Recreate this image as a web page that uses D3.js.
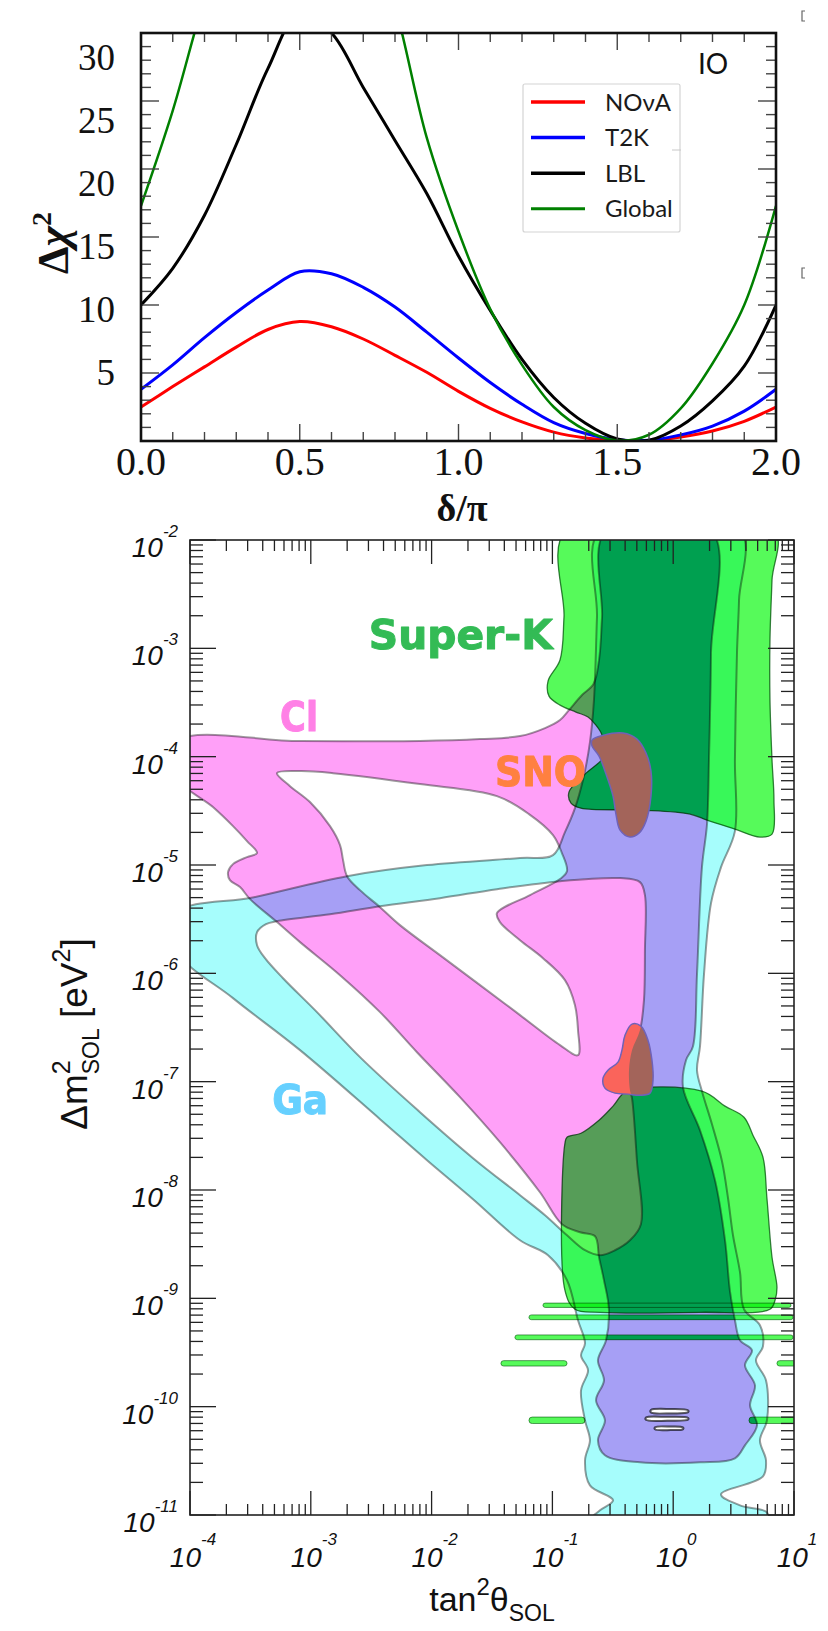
<!DOCTYPE html>
<html><head><meta charset="utf-8">
<script src="https://cdn.jsdelivr.net/npm/d3@7"></script>
<style>
html,body{margin:0;padding:0;background:#fff;}
svg{display:block;}
</style></head><body>
<svg id="chart" width="828" height="1631"></svg>
<script>
// ===== Panel A: Δχ² as a function of δ/π (inverted ordering) =====
const deltaGrid  = [0,0.1,0.2,0.3,0.4,0.5,0.6,0.7,0.8,0.9,1.0,1.1,1.2,1.3,1.4,1.5,1.6,1.7,1.8,1.9,2.0];
const novaChi2   = [2.5,4.0,5.45,6.9,8.2,8.78,8.4,7.5,6.3,5.05,3.65,2.4,1.4,0.65,0.22,0.03,0.03,0.3,0.74,1.45,2.5];
const t2kChi2    = [3.8,5.6,7.6,9.45,11.1,12.45,12.3,11.3,9.85,8.0,6.1,4.3,2.7,1.35,0.55,0.1,0.05,0.45,1.1,2.2,3.8];
const lblChi2    = [10.0,12.7,16.6,21.8,27.4,31.5,30.0,26.0,22.1,18.2,13.6,9.6,6.0,3.2,1.3,0.15,0.05,1.1,2.95,5.5,10.0];
const globalChi2 = [17.3,24.3,32.5,39,43,45,44,39,32,22.3,15.4,9.7,5.6,2.5,0.8,0.03,0.46,2.4,5.7,10.0,17.3];
const seriesNames  = ['NOνA','T2K','LBL','Global'];
const seriesColors = ['#ff0000','#0000ff','#000000','#008000'];
const seriesWidths = [3,3,3,2.5];
const chi2Labels   = [5,10,15,20,25,30];
const deltaLabels  = [0,0.5,1.0,1.5,2.0];

// ===== Panel B: solar allowed regions, [log10 tan²θ, log10 Δm²] =====
const gaOuter = [[-4.1,-5.44],[-3.470,-5.297],[-2.700,-5.103],[-2.038,-5.001],[-1.268,-4.936],[-0.995,-4.909],
 [-0.896,-4.696],[-0.813,-4.475],[-0.747,-4.216],[-0.689,-3.865],[-0.656,-3.477],[-0.631,-2.711],[-0.606,-1.908],
 [0.553,-1.908],[0.545,-2.554],[0.528,-3.043],[0.511,-4.031],[0.511,-4.687],[0.396,-5.020],[0.313,-5.352],
 [0.255,-6.008],[0.222,-6.672],[0.197,-6.894],[0.238,-7.088],[0.321,-7.393],[0.404,-7.734],[0.454,-8.076],
 [0.495,-8.418],[0.553,-8.759],[0.586,-9.101],[0.718,-9.249],[0.743,-9.443],[0.685,-9.572],[0.768,-9.757],
 [0.776,-10.126],[0.718,-10.311],[0.768,-10.495],[0.743,-10.643],[0.396,-10.809],[0.553,-10.911],[0.776,-10.975],
 [0.776,-11.05],[-0.689,-11.05],[-0.606,-10.957],[-0.498,-10.864],[-0.689,-10.726],[-0.730,-10.495],[-0.689,-10.311],
 [-0.730,-10.126],[-0.763,-9.849],[-0.705,-9.664],[-0.763,-9.526],[-0.730,-9.415],[-0.788,-9.203],[-0.879,-8.833],
 [-1.036,-8.602],[-1.268,-8.464],[-1.657,-8.085],[-2.038,-7.725],[-2.427,-7.346],[-3.089,-6.709],[-3.644,-6.229],[-4.1,-5.80]];
const gaHole = [[-3.445,-5.620],[-3.371,-5.546],[-3.280,-5.518],[-2.841,-5.454],[-2.427,-5.380],[-1.931,-5.306],
 [-1.459,-5.223],[-0.937,-5.149],[-0.440,-5.121],[-0.275,-5.158],[-0.234,-5.278],[-0.234,-5.786],[-0.242,-6.248],
 [-0.275,-6.525],[-0.341,-6.709],[-0.366,-6.894],[-0.358,-7.079],[-0.341,-7.153],[-0.300,-7.734],[-0.267,-8.316],
 [-0.358,-8.464],[-0.482,-8.556],[-0.606,-8.602],[-0.730,-8.556],[-0.879,-8.418],[-1.061,-8.233],[-1.268,-8.048],
 [-1.657,-7.706],[-2.096,-7.282],[-2.584,-6.783],[-2.949,-6.358],[-3.230,-6.045],[-3.379,-5.860],[-3.445,-5.740]];
const clOuter = [[-4.1,-3.856],[-3.089,-3.856],[-2.096,-3.856],[-1.599,-3.838],[-1.268,-3.810],[-1.061,-3.736],
 [-0.937,-3.662],[-0.863,-3.570],[-0.755,-3.431],[-0.660,-3.330],[-0.614,-3.108],[-0.589,-2.711],[-0.556,-1.908],
 [0.313,-1.908],[0.313,-3.043],[0.296,-4.031],[0.280,-4.622],[0.238,-5.020],[0.197,-6.008],[0.164,-6.672],
 [0.106,-6.802],[0.081,-7.051],[0.222,-7.449],[0.346,-7.910],[0.429,-8.464],[0.470,-8.935],[0.511,-9.203],[0.553,-9.387],
 [0.652,-9.480],[0.594,-9.618],[0.677,-9.803],[0.636,-9.988],[0.694,-10.172],[0.594,-10.357],[0.511,-10.477],
 [0.222,-10.514],[-0.275,-10.514],[-0.565,-10.449],[-0.623,-10.311],[-0.565,-10.126],[-0.639,-9.941],[-0.573,-9.757],
 [-0.623,-9.572],[-0.556,-9.387],[-0.532,-9.101],[-0.573,-8.833],[-0.614,-8.621],[-0.647,-8.427],[-0.772,-8.390],
 [-0.921,-8.316],[-1.103,-8.021],[-1.434,-7.559],[-1.765,-7.143],[-2.121,-6.728],[-2.427,-6.358],[-2.758,-6.017],
 [-3.089,-5.712],[-3.280,-5.527],[-3.503,-5.315],[-3.586,-5.204],[-3.669,-5.140],[-3.685,-5.066],[-3.644,-4.992],
 [-3.528,-4.927],[-3.445,-4.890],[-3.528,-4.779],[-3.644,-4.641],[-3.810,-4.465],[-4.1,-4.20]];
const clHole = [[-3.280,-4.152],[-3.089,-4.133],[-2.816,-4.152],[-2.096,-4.253],[-1.459,-4.364],[-1.194,-4.530],
 [-0.995,-4.724],[-0.921,-4.890],[-0.879,-5.056],[-0.937,-5.130],[-1.185,-5.278],[-1.459,-5.444],[-1.434,-5.527],
 [-1.268,-5.694],[-1.078,-5.860],[-0.896,-6.063],[-0.813,-6.294],[-0.788,-6.525],[-0.788,-6.756],[-0.937,-6.663],
 [-1.268,-6.386],[-1.599,-6.109],[-1.931,-5.832],[-2.262,-5.555],[-2.427,-5.389],[-2.593,-5.232],[-2.700,-5.103],
 [-2.733,-4.955],[-2.758,-4.816],[-2.841,-4.641],[-3.007,-4.419],[-3.172,-4.272]];
// narrow gaps inside the low-Δm² part shared by both radiochemical regions
const lowGaps = [[[-0.184,-10.030],[-0.02,-10.022],[0.123,-10.034],[0.123,-10.052],[-0.02,-10.062],[-0.184,-10.054]],
 [[-0.225,-10.100],[-0.05,-10.094],[0.123,-10.104],[0.123,-10.120],[-0.05,-10.130],[-0.225,-10.122]],
 [[-0.150,-10.190],[-0.02,-10.184],[0.081,-10.192],[0.081,-10.208],[-0.02,-10.216],[-0.150,-10.210]]];
const skUpper = [[-0.887,-1.908],[-0.904,-2.711],[-0.937,-3.108],[-1.036,-3.302],[-1.028,-3.441],[-0.937,-3.524],
 [-0.805,-3.588],[-0.705,-3.634],[-0.647,-3.699],[-0.589,-3.801],[-0.573,-3.995],[-0.730,-4.161],[-0.863,-4.327],
 [-0.846,-4.429],[-0.763,-4.475],[-0.275,-4.493],[0.139,-4.530],[0.280,-4.586],[0.511,-4.669],[0.718,-4.742],
 [0.818,-4.715],[0.834,-4.401],[0.818,-4.031],[0.801,-3.477],[0.801,-2.923],[0.818,-2.369],[0.834,-1.908]];
const skLower = [[-0.896,-7.568],[-0.879,-7.513],[-0.763,-7.476],[-0.614,-7.356],[-0.498,-7.226],[-0.383,-7.088],
 [0.238,-7.088],[0.429,-7.226],[0.586,-7.328],[0.660,-7.494],[0.743,-7.697],[0.776,-8.076],[0.818,-8.621],
 [0.859,-8.898],[0.843,-9.018],[0.801,-9.101],[0.222,-9.129],[-0.606,-9.129],[-0.813,-9.101],[-0.896,-8.926]];
// thin Super-K islands: [log10 tan² from, to, log10 Δm² centre, half height in decades]
const skIslands = [[-1.078,0.975,-9.064,0.02],[-1.194,0.992,-9.175,0.022],[-1.310,0.992,-9.360,0.022],
 [-1.426,-0.879,-9.600,0.025],[0.859,1.05,-9.600,0.025],[-1.194,-0.730,-10.126,0.03],[0.627,1.05,-10.126,0.03]];
const snoUpper = [[-0.672,-3.847],[-0.573,-3.801],[-0.416,-3.782],[-0.300,-3.838],[-0.225,-3.967],[-0.184,-4.133],
 [-0.184,-4.364],[-0.225,-4.595],[-0.283,-4.706],[-0.358,-4.742],[-0.440,-4.678],[-0.474,-4.530],[-0.498,-4.364],
 [-0.556,-4.161],[-0.614,-3.995],[-0.672,-3.902]];
const snoLower = [[-0.341,-6.469],[-0.267,-6.488],[-0.209,-6.617],[-0.176,-6.802],[-0.167,-6.986],[-0.192,-7.106],
 [-0.275,-7.125],[-0.374,-7.115],[-0.482,-7.106],[-0.565,-7.060],[-0.581,-6.968],[-0.540,-6.894],[-0.457,-6.820],
 [-0.424,-6.709],[-0.399,-6.571]];
const regionLabels = [
  {text:'Super-K', lx:-2.52, ly:-3.005, w:184, color:'#33bb55'},
  {text:'Cl',      lx:-3.255, ly:-3.76, w:38, color:'#ff80e6'},
  {text:'SNO',     lx:-1.475, ly:-4.27, w:91, color:'#ff8040'},
  {text:'Ga',      lx:-3.32, ly:-7.30, w:56, color:'#66d0ff'}];
const tanExponents = [-4,-3,-2,-1,0,1];
const dmExponents  = [-2,-3,-4,-5,-6,-7,-8,-9,-10,-11];

const svg = d3.select('#chart');
const defs = svg.append('defs');

// ---------------- Panel A ----------------
const A = {l:141, r:776, t:33, b:441};
const xA = d3.scaleLinear().domain([0,2]).range([A.l,A.r]);
const yA = d3.scaleLinear().domain([0,30]).range([A.b,A.t]);
// the printed numbers on the Δχ² axis run on a slightly tighter spacing than the ticks
const yALabel = d3.scaleLinear().domain([5,30]).range([372,57]);

defs.append('clipPath').attr('id','clipA').append('rect')
  .attr('x',A.l).attr('y',A.t).attr('width',A.r-A.l).attr('height',A.b-A.t);

const gA = svg.append('g');
const curveData = [novaChi2,t2kChi2,lblChi2,globalChi2];
const lineA = d3.line().x((d,i)=>xA(deltaGrid[i])).y(d=>yA(d)).curve(d3.curveCatmullRom.alpha(0.5));
const curves = gA.append('g').attr('clip-path','url(#clipA)');
curveData.forEach((vals,k)=>{
  curves.append('path').attr('d',lineA(vals)).attr('fill','none')
    .attr('stroke',seriesColors[k]).attr('stroke-width',seriesWidths[k]);
});

// ticks
const tickA = gA.append('g').attr('stroke','#444').attr('stroke-width',1.4);
d3.range(0,21).forEach(i=>{
  const v=i/10, major=(i%5===0), L=major?17:9, x=xA(v);
  tickA.append('line').attr('x1',x).attr('x2',x).attr('y1',A.b).attr('y2',A.b-L);
  tickA.append('line').attr('x1',x).attr('x2',x).attr('y1',A.t).attr('y2',A.t+L);
});
d3.range(0,31).forEach(v=>{
  const major=(v%5===0), L=major?18:10, y=yA(v);
  tickA.append('line').attr('x1',A.l).attr('x2',A.l+L).attr('y1',y).attr('y2',y);
  tickA.append('line').attr('x1',A.r).attr('x2',A.r-L).attr('y1',y).attr('y2',y);
});
gA.append('rect').attr('x',A.l).attr('y',A.t).attr('width',A.r-A.l).attr('height',A.b-A.t)
  .attr('fill','none').attr('stroke','#111').attr('stroke-width',2.6);

// tick labels
gA.selectAll('.xl').data(deltaLabels).enter().append('text')
  .attr('x',d=>xA(d)).attr('y',475).attr('text-anchor','middle')
  .attr('font-family','Liberation Serif, Times New Roman, serif').attr('font-size',40).attr('fill','#111')
  .text(d=>d.toFixed(1));
gA.selectAll('.yl').data(chi2Labels).enter().append('text')
  .attr('x',115).attr('y',d=>yALabel(d)+12.5).attr('text-anchor','end')
  .attr('font-family','Liberation Serif, Times New Roman, serif').attr('font-size',37).attr('fill','#111')
  .text(d=>d);

// axis titles
gA.append('text').attr('x',462).attr('y',521).attr('text-anchor','middle')
  .attr('font-family','Liberation Serif, Times New Roman, serif').attr('font-weight','bold')
  .attr('font-size',38).attr('fill','#111').text('δ/π');
const ytA = gA.append('text').attr('transform','translate(68,243) rotate(-90)').attr('text-anchor','middle')
  .attr('font-family','Liberation Serif, Times New Roman, serif').attr('font-weight','bold')
  .attr('font-size',44).attr('fill','#111');
ytA.append('tspan').text('Δ');
ytA.append('tspan').attr('font-style','italic').text('χ');
ytA.append('tspan').attr('dy',-17).attr('font-size',28).text('2');

gA.append('text').attr('x',698).attr('y',74).attr('font-family','Lato, sans-serif')
  .attr('font-size',28).attr('fill','#111').text('IO');

// legend
const leg = gA.append('g');
leg.append('rect').attr('x',523).attr('y',84).attr('width',157).attr('height',148).attr('rx',2)
  .attr('fill','#fff').attr('stroke','#d4d4d4').attr('stroke-width',1.2);
seriesNames.forEach((n,k)=>{
  const y = 102 + k*35.6;
  leg.append('line').attr('x1',531).attr('x2',585).attr('y1',y).attr('y2',y)
    .attr('stroke',seriesColors[k]).attr('stroke-width',seriesWidths[k]+0.5);
  leg.append('text').attr('x',605).attr('y',y+8.5).attr('font-family','Lato, sans-serif')
    .attr('font-size',24).attr('fill','#1a1a1a').text(n);
});
leg.append('line').attr('x1',672).attr('x2',681).attr('y1',150).attr('y2',150).attr('stroke','#c8c8c8').attr('stroke-width',1);
// small crop marks on the right margin
[[805,11],[805,268]].forEach(([x,y])=>{
  gA.append('path').attr('d',`M${x},${y} h-3 v10 h3`).attr('fill','none').attr('stroke','#666').attr('stroke-width',1.2);
});

// ---------------- Panel B ----------------
const B = {l:190, r:794, t:540, b:1515};
const xB = d3.scaleLog().domain([1e-4,1e1]).range([B.l,B.r]);
const yB = d3.scaleLog().domain([1e-11,1e-2]).range([B.b,B.t]);
const P = ([a,b]) => [xB(Math.pow(10,a)), yB(Math.pow(10,b))];
const smooth = d3.line().curve(d3.curveCatmullRomClosed.alpha(0.5));
const ring = pts => smooth(pts.map(P));
const islandRect = (sel,[a,b,c,h]) => {
  const x0=xB(Math.pow(10,a)), x1=xB(Math.pow(10,b)), y0=yB(Math.pow(10,c+h)), y1=yB(Math.pow(10,c-h));
  return sel.append('rect').attr('x',x0).attr('y',y0).attr('width',x1-x0).attr('height',y1-y0).attr('rx',(y1-y0)/2);
};

const gaPath = ring(gaOuter)+ring(gaHole)+lowGaps.map(ring).join('');
const clPath = ring(clOuter)+ring(clHole)+lowGaps.map(ring).join('');
const GA_FILL='#a6fdfc', CL_FILL='#ffa0f8', SK_FILL='#56fa5a', SK_CORE='#00a050', SNO_FILL='#faa05d';

defs.append('clipPath').attr('id','clipB').append('rect')
  .attr('x',B.l).attr('y',B.t).attr('width',B.r-B.l).attr('height',B.b-B.t);
const snoClip = defs.append('clipPath').attr('id','clipSNO');
snoClip.append('path').attr('d',ring(snoUpper));
snoClip.append('path').attr('d',ring(snoLower));
const skClip = defs.append('clipPath').attr('id','clipSK');
skClip.append('path').attr('d',ring(skUpper));
skClip.append('path').attr('d',ring(skLower));
skIslands.forEach(d=>islandRect(skClip,d));
defs.append('clipPath').attr('id','clipGA').append('path').attr('d',gaPath).attr('clip-rule','evenodd');

const gB = svg.append('g').attr('clip-path','url(#clipB)').style('isolation','isolate');
gB.append('rect').attr('x',B.l).attr('y',B.t).attr('width',B.r-B.l).attr('height',B.b-B.t).attr('fill','#fff');

function regionFills(g){
  g.append('path').attr('d',gaPath).attr('fill-rule','evenodd').attr('fill',GA_FILL).style('mix-blend-mode','multiply');
  g.append('path').attr('d',clPath).attr('fill-rule','evenodd').attr('fill',CL_FILL).style('mix-blend-mode','multiply');
}
regionFills(gB);

// Super-Kamiokande
const skG = gB.append('g');
[skUpper,skLower].forEach(r=>{
  skG.append('path').attr('d',ring(r)).attr('fill',SK_FILL).style('mix-blend-mode','multiply');
});
skIslands.forEach(d=>islandRect(skG,d).attr('fill',SK_FILL).style('mix-blend-mode','multiply'));
// where Super-K, Cl and Ga all agree
gB.append('g').attr('clip-path','url(#clipSK)').append('g').attr('clip-path','url(#clipGA)')
  .append('path').attr('d',clPath).attr('fill-rule','evenodd').attr('fill',SK_CORE);

// contour lines
gB.append('path').attr('d',gaPath).attr('fill','none').attr('stroke','#9c9c9c').attr('stroke-width',2).style('mix-blend-mode','multiply');
gB.append('path').attr('d',clPath).attr('fill','none').attr('stroke','#9c9c9c').attr('stroke-width',2).style('mix-blend-mode','multiply');
[skUpper,skLower].forEach(r=>{
  gB.append('path').attr('d',ring(r)).attr('fill','none').attr('stroke','#3f7f48').attr('stroke-width',1.3).style('mix-blend-mode','multiply');
});
skIslands.forEach(d=>islandRect(gB,d).attr('fill','none').attr('stroke','#3f7f48').attr('stroke-width',0.8).style('mix-blend-mode','multiply'));

// SNO: blended with the radiochemical regions only
const snoG = gB.append('g').attr('clip-path','url(#clipSNO)').style('isolation','isolate');
snoG.append('rect').attr('x',B.l).attr('y',B.t).attr('width',B.r-B.l).attr('height',B.b-B.t).attr('fill','#fff');
regionFills(snoG);
snoG.append('rect').attr('x',B.l).attr('y',B.t).attr('width',B.r-B.l).attr('height',B.b-B.t)
  .attr('fill',SNO_FILL).style('mix-blend-mode','multiply');
[snoUpper,snoLower].forEach(r=>{
  gB.append('path').attr('d',ring(r)).attr('fill','none').attr('stroke','#6f62b8').attr('stroke-width',1.5);
});

// region labels
regionLabels.forEach(d=>{
  const [x,y]=P([d.lx,d.ly]);
  gB.append('text').attr('x',x).attr('y',y).attr('textLength',d.w).attr('lengthAdjust','spacingAndGlyphs')
    .attr('font-family','DejaVu Sans, sans-serif').attr('font-weight','bold').attr('font-size',40)
    .attr('fill',d.color).attr('stroke',d.color).attr('stroke-width',1).attr('stroke-linejoin','round')
    .text(d.text);
});

// frame and ticks
const gBA = svg.append('g');
const tB = gBA.append('g').attr('stroke','#222').attr('stroke-width',1.3);
tanExponents.forEach(e=>{
  const x=xB(Math.pow(10,e));
  tB.append('line').attr('x1',x).attr('x2',x).attr('y1',B.b).attr('y2',B.b-24);
  tB.append('line').attr('x1',x).attr('x2',x).attr('y1',B.t).attr('y2',B.t+24);
  if(e<1) d3.range(2,10).forEach(m=>{
    const xm=xB(m*Math.pow(10,e));
    tB.append('line').attr('x1',xm).attr('x2',xm).attr('y1',B.b).attr('y2',B.b-11);
    tB.append('line').attr('x1',xm).attr('x2',xm).attr('y1',B.t).attr('y2',B.t+11);
  });
});
dmExponents.forEach(e=>{
  const y=yB(Math.pow(10,e));
  tB.append('line').attr('x1',B.l).attr('x2',B.l+26).attr('y1',y).attr('y2',y);
  tB.append('line').attr('x1',B.r).attr('x2',B.r-26).attr('y1',y).attr('y2',y);
  if(e>-11) d3.range(2,10).forEach(m=>{
    const ym=yB(m*Math.pow(10,e-1));
    tB.append('line').attr('x1',B.l).attr('x2',B.l+13).attr('y1',ym).attr('y2',ym);
    tB.append('line').attr('x1',B.r).attr('x2',B.r-13).attr('y1',ym).attr('y2',ym);
  });
});
gBA.append('rect').attr('x',B.l).attr('y',B.t).attr('width',B.r-B.l).attr('height',B.b-B.t)
  .attr('fill','none').attr('stroke','#222').attr('stroke-width',1.6);

const sansI = 'Liberation Sans, Arial, Helvetica, sans-serif';
tanExponents.forEach(e=>{
  const t=gBA.append('text').attr('x',xB(Math.pow(10,e))+3).attr('y',1567).attr('text-anchor','middle')
    .attr('font-family',sansI).attr('font-style','italic').attr('font-size',28).attr('fill','#111');
  t.append('tspan').text('10');
  t.append('tspan').attr('dy',-22).attr('font-size',17).text(String(e));
});
dmExponents.forEach(e=>{
  const t=gBA.append('text').attr('x',178).attr('y',yB(Math.pow(10,e))+17).attr('text-anchor','end')
    .attr('font-family',sansI).attr('font-style','italic').attr('font-size',28).attr('fill','#111');
  t.append('tspan').text('10');
  t.append('tspan').attr('dy',-20).attr('font-size',17).text(String(e));
});

// axis titles
const xtB = gBA.append('text').attr('x',492).attr('y',1611).attr('text-anchor','middle')
  .attr('font-family',sansI).attr('font-size',34).attr('fill','#111');
xtB.append('tspan').text('tan');
xtB.append('tspan').attr('dy',-16).attr('font-size',24).text('2');
xtB.append('tspan').attr('dy',16).text('θ');
xtB.append('tspan').attr('dy',10).attr('font-size',23).text('SOL');

const ytB = gBA.append('text').attr('transform','translate(87,1034) rotate(-90)').attr('text-anchor','middle')
  .attr('font-family',sansI).attr('font-size',37).attr('fill','#111');
ytB.append('tspan').text('Δm');
ytB.append('tspan').attr('dy',-17).attr('font-size',25).text('2');
ytB.append('tspan').attr('dx',-14).attr('dy',29).attr('font-size',23).text('SOL');
ytB.append('tspan').attr('dy',-12).text(' [eV');
ytB.append('tspan').attr('dy',-17).attr('font-size',25).text('2');
ytB.append('tspan').attr('dy',17).text(']');
</script>
</body></html>
